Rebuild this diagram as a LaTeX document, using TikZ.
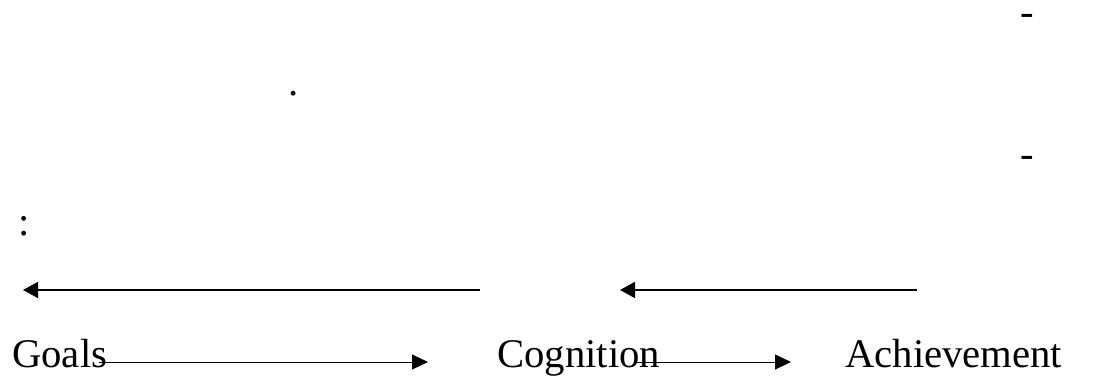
\documentclass[tikz,border=0pt]{standalone}
\usepackage{fontspec}
\setmainfont{Liberation Serif}
\usetikzlibrary{arrows.meta,calc}

\begin{document}
\begin{tikzpicture}[x=1pt,y=-1pt,
        link/.style={line width=1pt,-{Triangle[length=16pt,width=15pt]}},
        back/.style={line width=1.6pt,-{Triangle[length=15pt,width=16pt]}},
        word/.style={inner sep=0pt,anchor=base west,font=\fontsize{40.7}{48}\selectfont}]
            \path[use as bounding box] (0,0) rectangle (1100,382);

            \node[word] (goals) at (12,367) {Goals};
            \node[word] (cognition) at (497,367) {Cognition};
            \node[word] (achievement) at (845,367) {Achievement};

            \foreach[count=\i] \y in {26,168} {
                \node[word] (dash\i) at (1020,\y) {-};
            }
            \node[word] (dot) at (288,96) {.};
            \node[word] (colon) at (18,235) {:};

            \coordinate (b1) at (480,290);
            \coordinate (e1) at (23,290);
            \coordinate (b2) at (917,290);
            \coordinate (e2) at (620,290);

            \draw[back] (b1) -- (e1);
            \draw[back] (b2) -- (e2);
            \draw[link] ($ (goals.base east) + (-8,-5) $) -- ($ (cognition.base west) + (-69,-5) $);
            \draw[link] ($ (cognition.base east) + (-25,-5) $) -- ($ (achievement.base west) + (-54,-5) $);
        \end{tikzpicture}
\end{document}
